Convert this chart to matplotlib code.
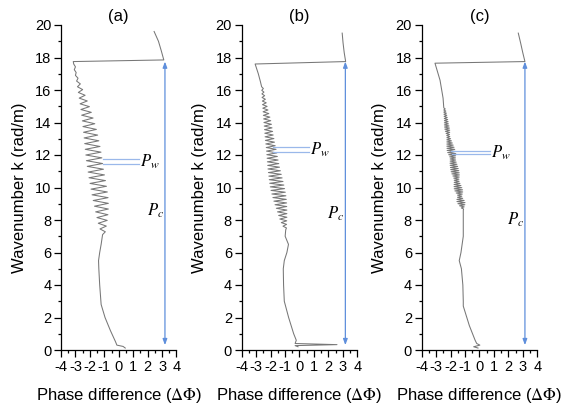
import numpy as np
import matplotlib
matplotlib.use('Agg')
import matplotlib.pyplot as plt
from matplotlib.ticker import MultipleLocator

plt.rcParams['font.family'] = ['Liberation Sans', 'DejaVu Sans']
plt.rcParams['mathtext.fontset'] = 'stix'
plt.rcParams['axes.unicode_minus'] = False


# <============DATA============>#

titles = ['(a)', '(b)', '(c)']

# upper branch + phase-wrap jump (k, phase)
a_top_k = [19.6, 19.0, 18.4, 17.85, 17.75]
a_top_x = [2.45, 2.75, 2.95, 3.12, -3.15]
b_top_k = [19.5, 18.9, 18.3, 17.75, 17.6, 17.0, 16.5]
b_top_x = [2.96, 3.02, 3.10, 3.20, -3.07, -2.85, -2.70]
c_top_k = [19.5, 18.9, 18.3, 17.75, 17.65, 16.6, 15.5]
c_top_x = [2.69, 2.85, 3.00, 3.15, -3.08, -2.73, -2.52]

# oscillating part: first k, period, left / right turning points
a_zig_k0, a_zig_dk = 17.6, 0.35
a_left = [-3.12, -3.08, -3.00, -2.92, -2.86, -2.80, -2.74, -2.68, -2.62, -2.57,
          -2.52, -2.48, -2.44, -2.40, -2.36, -2.32, -2.28, -2.24, -2.18, -2.12,
          -2.06, -1.99, -1.92, -1.85, -1.77, -1.68, -1.60, -1.51, -1.42, -1.30]
a_right = [-3.00, -2.95, -2.82, -2.66, -2.50, -2.33, -2.18, -2.03, -1.90, -1.78,
           -1.66, -1.55, -1.46, -1.38, -1.30, -1.23, -1.17, -1.12, -1.06, -0.99,
           -0.92, -0.85, -0.79, -0.74, -0.72, -0.72, -0.75, -0.80, -0.86, -0.93]

b_zig_k0, b_zig_dk = 16.2, 0.22
b_left = [-2.62, -2.61, -2.60, -2.59, -2.57, -2.56, -2.54, -2.52, -2.50, -2.48,
          -2.46, -2.44, -2.42, -2.40, -2.38, -2.36, -2.33, -2.30, -2.28, -2.26,
          -2.24, -2.22, -2.20, -2.18, -2.15, -2.12, -2.09, -2.06, -2.02, -1.97,
          -1.91, -1.84, -1.77, -1.69, -1.60, -1.52, -1.44, -1.36, -1.26, -1.14]
b_right = [-2.50, -2.46, -2.41, -2.36, -2.30, -2.24, -2.18, -2.12, -2.05, -1.99,
           -1.94, -1.90, -1.86, -1.82, -1.77, -1.73, -1.68, -1.62, -1.57, -1.53,
           -1.48, -1.43, -1.38, -1.32, -1.26, -1.20, -1.14, -1.08, -1.03, -0.98,
           -0.94, -0.91, -0.89, -0.88, -0.87, -0.87, -0.87, -0.88, -0.89, -0.90]

c_zig_k0, c_zig_dk = 14.9, 0.131
c_left = [-2.47, -2.47, -2.47, -2.46, -2.45, -2.44, -2.43, -2.43, -2.43, -2.42,
          -2.40, -2.36, -2.31, -2.27, -2.26, -2.26, -2.26, -2.26, -2.26, -2.25,
          -2.24, -2.20, -2.13, -2.06, -2.03, -2.03, -2.04, -2.03, -2.01, -1.99,
          -1.96, -1.91, -1.84, -1.78, -1.75, -1.75, -1.76, -1.76, -1.75, -1.70,
          -1.61, -1.52, -1.52, -1.56, -1.56, -1.49, -1.38, -1.26]
c_right = [-2.37, -2.33, -2.29, -2.26, -2.23, -2.20, -2.17, -2.15, -2.11, -2.08,
           -2.06, -2.06, -2.07, -2.05, -2.00, -1.94, -1.88, -1.82, -1.76, -1.71,
           -1.66, -1.64, -1.65, -1.66, -1.65, -1.61, -1.56, -1.51, -1.47, -1.43,
           -1.40, -1.39, -1.40, -1.42, -1.41, -1.35, -1.28, -1.22, -1.17, -1.16,
           -1.19, -1.22, -1.16, -1.06, -1.00, -1.01, -1.06, -1.10]

# lower smooth part down to k = 0
a_tail_k = [7.1, 6.5, 6.0, 5.5, 5.0, 4.0, 2.8, 2.0, 1.2, 0.5, 0.3, 0.22, 0.12]
a_tail_x = [-1.12, -1.22, -1.32, -1.40, -1.38, -1.32, -1.22, -0.95, -0.58, -0.22, -0.13, 0.30, 0.45]
b_tail_k = [7.4, 7.0, 6.5, 6.0, 5.5, 5.0, 4.0, 3.0, 2.0, 1.0, 0.6, 0.4, 0.33, 0.27, 0.2]
b_tail_x = [-0.95, -0.99, -0.76, -0.87, -1.05, -1.12, -1.10, -1.05, -0.75, -0.40, -0.22, -0.30, 2.60, -0.30, -0.10]
c_tail_k = [8.6, 8.0, 7.0, 6.5, 6.0, 5.5, 5.0, 4.0, 3.0, 2.7, 1.5, 0.6, 0.4, 0.3, 0.2, 0.12]
c_tail_x = [-1.12, -1.12, -1.12, -1.20, -1.28, -1.40, -1.25, -1.15, -1.12, -1.12, -0.70, -0.30, -0.19, 0.03, -0.40, -0.10]

# annotation values
arrow_x = [3.2, 3.18, 3.15]
arrow_k = (0.3, 17.75)
pw_k = [(11.75, 11.45), (12.47, 12.16), (12.25, 12.06)]
pw_x0 = [(-1.12, -1.06), (-1.8, -1.8), (-1.95, -1.9)]
pw_x1 = [1.37, 0.63, 0.73]
pc_k = [8.55, 8.4, 8.0]


# <============HELPERS============>#


def build_curve(top_k, top_x, k0, dk, left, right, tail_k, tail_x):
    ks = list(top_k)
    xs = list(top_x)
    for i in range(len(left)):
        ks += [k0 - i * dk, k0 - (i + 0.5) * dk]
        xs += [left[i], right[i]]
    ks += tail_k
    xs += tail_x
    return np.array(xs), np.array(ks)


curves = [
    build_curve(a_top_k, a_top_x, a_zig_k0, a_zig_dk, a_left, a_right, a_tail_k, a_tail_x),
    build_curve(b_top_k, b_top_x, b_zig_k0, b_zig_dk, b_left, b_right, b_tail_k, b_tail_x),
    build_curve(c_top_k, c_top_x, c_zig_k0, c_zig_dk, c_left, c_right, c_tail_k, c_tail_x),
]


# <============PLOTING============>#

W, H = 570, 404
fig = plt.figure(figsize=(W / 100, H / 100), dpi=100)
lefts = [61, 241.7, 421.7]
arrow_c = '#5f8fdc'
pw_c = '#9ab8ea'

for i, (xs, ks) in enumerate(curves):
    ax = fig.add_axes([lefts[i] / W, 54 / H, 115.5 / W, 325 / H])
    ax.plot(xs, ks, color='#777777', lw=0.75)

    ax.annotate('', xy=(arrow_x[i], arrow_k[0]), xytext=(arrow_x[i], arrow_k[1]),
                arrowprops=dict(arrowstyle='<|-|>,head_length=0.35,head_width=0.13',
                                color=arrow_c, lw=0.9, shrinkA=0, shrinkB=0))
    for kk, x0 in zip(pw_k[i], pw_x0[i]):
        ax.plot([x0, pw_x1[i]], [kk, kk], color=pw_c, lw=0.9)
    ax.text(pw_x1[i] + 0.08, np.mean(pw_k[i]), '$P_w$', fontsize=12,
            va='center', ha='left')
    ax.text(arrow_x[i] - 0.08, pc_k[i], '$P_c$', fontsize=12,
            va='center', ha='right')

    ax.set_xlim(-4, 4)
    ax.set_ylim(0, 20)
    ax.xaxis.set_major_locator(MultipleLocator(1))
    ax.xaxis.set_minor_locator(MultipleLocator(0.5))
    ax.yaxis.set_major_locator(MultipleLocator(2))
    ax.yaxis.set_minor_locator(MultipleLocator(1))
    ax.tick_params(which='major', direction='out', length=5, width=0.9, labelsize=10.5, pad=2)
    ax.tick_params(which='minor', direction='out', length=2.5, width=0.9)
    ax.spines['top'].set_visible(False)
    ax.spines['right'].set_visible(False)
    for s in ['left', 'bottom']:
        ax.spines[s].set_linewidth(0.9)
    ax.set_ylabel('Wavenumber k (rad/m)', fontsize=12, labelpad=6)
    ax.set_xlabel(r'Phase difference ($\Delta\Phi$)', fontsize=12, labelpad=9)
    ax.set_title(titles[i], fontsize=12, pad=3)

fig.savefig('out.png', dpi=100)
